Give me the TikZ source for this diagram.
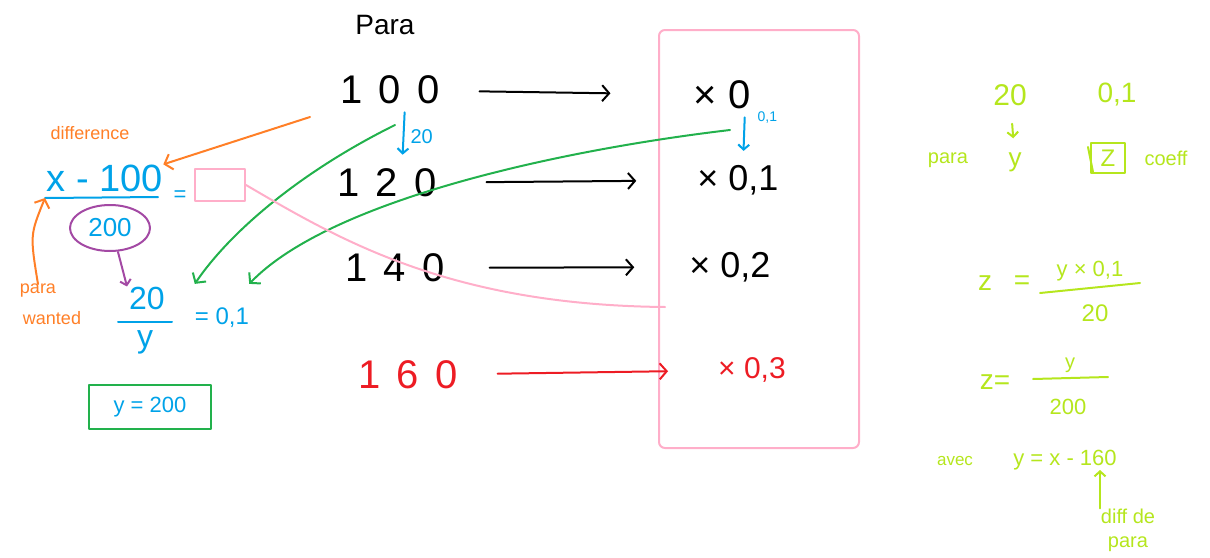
\documentclass[tikz,border=0pt]{standalone}
\usepackage{fontspec}
\setmainfont{Liberation Sans}
\newfontfamily\widefont[LetterSpace=40]{Liberation Sans}
\usetikzlibrary{arrows.meta,shapes.geometric}

\definecolor{paintblue}{HTML}{00A2E8}
\definecolor{paintorange}{HTML}{FF7F27}
\definecolor{paintgreen}{HTML}{22B14C}
\definecolor{paintpink}{HTML}{FFAEC9}
\definecolor{paintpurple}{HTML}{A349A4}
\definecolor{paintred}{HTML}{ED1C24}
\definecolor{paintlime}{HTML}{B5E61D}

\begin{document}
\begin{tikzpicture}[
  x=1pt, y=-1pt,
  every node/.style={inner sep=0pt},
  big/.style={font=\widefont\fontsize{40}{44}\selectfont},
  mult/.style={font=\fontsize{36}{40}\selectfont},
  txt/.style={font=\fontsize{#1}{#1}\selectfont, align=center},
  pen/.style={line width=2pt, line cap=round, line join=round},
  line/.style={pen, -{Straight Barb[length=7pt, width=16pt]}},
  smallline/.style={pen, -{Straight Barb[length=5pt, width=11pt]}}
]
\useasboundingbox (0,0) rectangle (1210,557);

% para column
\node[txt=28] (para) at (385,25) {Para};
\node[big] (p100) at (390,90) {100};
\node[big] (p120) at (387,183) {120};
\node[big] (p140) at (395,268) {140};
\node[big, paintred] (p160) at (408,375) {160};

% coefficients
\node[draw=paintpink, pen, rounded corners=6pt, minimum width=200pt, minimum height=418pt] (box) at (759,239) {};
\node[font=\fontsize{40}{44}\selectfont] (c0) at (722,95) {× 0};
\node[mult] (c1) at (738,180) {× 0,1};
\node[mult] (c2) at (730,267) {× 0,2};
\node[txt=30, paintred] (c3) at (752,370) {× 0,3};

\draw[line] (p100) -- (c0) [shorten <=40pt, shorten >=83pt];
\draw[line] (p120) -- (c1) [shorten <=50pt, shorten >=61pt];
\draw[line] (p140) -- (c2) [shorten <=45pt, shorten >=55pt];
\draw[line, paintred] (p160) -- (c3) [shorten <=40pt, shorten >=50pt];

\draw[smallline, paintblue] ([xshift=15pt]p100.south) -- ([xshift=15pt]p120.north)
  [shorten <=8pt, shorten >=14pt] node[midway, right=6pt, txt=20] {20};
\draw[smallline, paintblue] ([xshift=23pt]c0.south) -- ([xshift=5pt]c1.north)
  [shorten <=8pt, shorten >=14pt] node[pos=0.15, right=12pt, txt=14] {0,1};

% left equation
\node[txt=18, paintorange] (diff) at (90,133) {difference};
\node[txt=38, paintblue] (xnum) at (105,178) {x - 100};
\coordinate (fl1) at (45,198);
\coordinate (fl2) at (158,197);
\draw[pen, paintblue] (fl1) -- (fl2);
\node[txt=22, paintblue] (eq1) at (180,196) {=};
\node[draw=paintpink, pen, minimum width=50pt, minimum height=32pt] (pbox) at (220,185) {};
\node[draw=paintpurple, pen, ellipse, minimum width=80pt, minimum height=46pt, txt=26, text=paintblue] (den) at (110,228) {200};
\node[txt=32, paintblue] (n20) at (147,298) {20};
\draw[pen, paintblue] (118,322) -- (172,322);
\node[txt=32, paintblue] (ny) at (145,342) {y};
\node[txt=24, paintblue] (rhs) at (222,318) {= 0,1};
\node[draw=paintgreen, pen, minimum width=122pt, minimum height=44pt, txt=22, text=paintblue] (ybox) at (150,407) {y = 200};
\node[txt=18, paintorange] (wantA) at (38,291) {para};
\node[txt=18, paintorange] (wantB) at (52,318) {wanted};

\coordinate (o1) at (310,117);
\draw[line, paintorange] (o1) -- (xnum.north east);
\draw[line, paintorange] (wantA.north) .. controls (30,235) .. (fl1);
\draw[smallline, paintpurple] ([xshift=8pt]den.south) -- ([xshift=-20pt]n20.north);

% green links
\coordinate (g1) at (730,130);
\coordinate (g2) at (395,125);
\draw[line, paintgreen] (g1) .. controls (560,150) and (330,200) .. ([yshift=24pt]rhs.north east);
\draw[line, paintgreen] (g2) .. controls (300,172) and (230,232) .. ([yshift=24pt]rhs.north west);

% pink link
\coordinate (pk) at (665,307);
\draw[pen, paintpink] (pbox.east) .. controls (340,240) and (450,305) .. (pk);

% right notes
\begin{scope}[every node/.append style={text=paintlime}]
\node[txt=30] (r20) at (1010,95) {20};
\node[txt=28] (r01) at (1117,95) {0,1};
\node[txt=20] (rpara) at (948,160) {para};
\node[txt=26] (ry) at (1015,162) {y};
\node[draw=paintlime, pen, minimum width=34pt, minimum height=30pt, txt=24] (zbox) at (1108,158) {Z};
\node[txt=20] (coeff) at (1166,158) {coeff};
\node[txt=28] (z1) at (985,283) {z};
\node[txt=28] (eqz1) at (1022,283) {=};
\node[txt=22] (num1) at (1090,271) {y × 0,1};
\node[txt=24] (den1) at (1095,313) {20};
\node[txt=28] (z2) at (995,382) {z=};
\node[txt=20] (num2) at (1070,365) {y};
\node[txt=22] (den2) at (1068,407) {200};
\node[txt=17] (avec) at (955,461) {avec};
\node[txt=22] (yeq) at (1065,460) {y = x - 160};
\node[font=\fontsize{20}{24}\selectfont, align=center] (dpara) at (1128,530) {diff de\\para};
\end{scope}
\begin{scope}[paintlime]
\draw[smallline] (r20) -- (ry) [shorten <=18pt, shorten >=14pt];
\draw[pen] (1088,147) -- (1093,172);
\draw[pen] (1040,293) -- (1140,283);
\draw[pen] (1033,379) -- (1108,377);
\coordinate (tip) at (1100,470);
\draw[smallline] (dpara.north -| tip) -- (tip);
\end{scope}
\end{tikzpicture}
\end{document}
